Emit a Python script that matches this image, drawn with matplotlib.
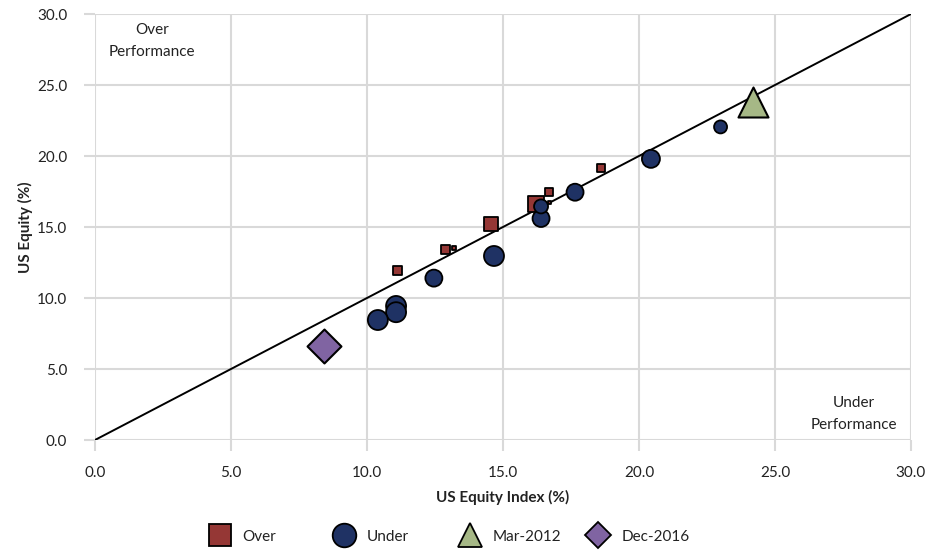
import matplotlib.pyplot as plt
from matplotlib.lines import Line2D

# Over-performing periods (squares)
over_x = [11.14, 12.90, 13.20, 14.56, 16.20, 16.70, 16.70, 18.60]
over_y = [11.97, 13.40, 13.55, 15.20, 16.60, 17.45, 16.70, 19.15]
over_w = [9, 9, 4, 14, 16, 8, 3, 8]

# Under-performing periods (circles)
under_x = [23.00, 20.44, 17.65, 16.40, 16.40, 14.67, 12.46, 11.07, 11.07, 10.40]
under_y = [22.05, 19.80, 17.45, 15.60, 16.45, 12.96, 11.40, 9.44, 9.00, 8.45]
under_w = [13, 18, 17, 17, 14, 20, 17, 20, 20, 20]

mar_2012 = (24.2, 23.8)
dec_2016 = (8.42, 6.6)

ticks = [0, 5, 10, 15, 20, 25, 30]
labels = ["Over", "Under", "Mar-2012", "Dec-2016"]

RED = "#953735"
NAVY = "#1F3264"
GREEN = "#A6B886"
PURPLE = "#8064A2"
GRID = "#D9D9D9"
TXT = "#222222"

plt.rcParams["font.family"] = ["Lato", "DejaVu Sans"]


def px_to_s(d):
    # marker diameter in pixels -> scatter size (pt^2) at dpi 100
    return (d * 0.72) ** 2


fig = plt.figure(figsize=(9.44, 5.5), dpi=100)
ax = fig.add_axes([0.1006, 0.2, 0.8644, 0.7745])

ax.plot([0, 30], [0, 30], color="black", lw=1.4, zorder=3)

ax.scatter(over_x, over_y, s=[px_to_s(d) for d in over_w], marker="s",
           facecolor=RED, edgecolor="black", linewidth=1.3, zorder=4)
ax.scatter(under_x, under_y, s=[px_to_s(d) for d in under_w], marker="o",
           facecolor=NAVY, edgecolor="black", linewidth=1.3, zorder=5)
ax.scatter([mar_2012[0]], [mar_2012[1]], s=px_to_s(30), marker="^",
           facecolor=GREEN, edgecolor="black", linewidth=1.5, zorder=6)
ax.scatter([dec_2016[0]], [dec_2016[1]], s=px_to_s(24), marker="D",
           facecolor=PURPLE, edgecolor="black", linewidth=1.5, zorder=6)

ax.set_xlim(0, 30)
ax.set_ylim(0, 30)
ax.set_xticks(ticks)
ax.set_yticks(ticks)
ax.set_xticklabels([f"{t:.1f}" for t in ticks])
ax.set_yticklabels([f"{t:.1f}" for t in ticks])
ax.grid(True, color=GRID, lw=1.5, zorder=0)
ax.set_axisbelow(True)
for sp in ax.spines.values():
    sp.set_visible(False)
ax.tick_params(axis="both", colors=GRID, length=8, width=1.5, labelsize=11,
               labelcolor=TXT)
ax.tick_params(axis="x", pad=11)
ax.tick_params(axis="y", pad=12)

ax.set_xlabel("US Equity Index (%)", fontsize=11, fontweight="bold",
              labelpad=7, color=TXT)
ax.set_ylabel("US Equity (%)", fontsize=11, fontweight="bold",
              labelpad=3, color=TXT)

ax.text(2.1, 28.1, "Over\nPerformance", ha="center", va="center",
        fontsize=11, color=TXT, linespacing=1.7)
ax.text(27.9, 1.83, "Under\nPerformance", ha="center", va="center",
        fontsize=11, color=TXT, linespacing=1.7)

handles = [
    Line2D([], [], ls="none", marker="s", ms=16, mfc=RED, mec="black", mew=1.3),
    Line2D([], [], ls="none", marker="o", ms=17, mfc=NAVY, mec="black", mew=1.3),
    Line2D([], [], ls="none", marker="^", ms=17, mfc=GREEN, mec="black", mew=1.3),
    Line2D([], [], ls="none", marker="D", ms=13, mfc=PURPLE, mec="black", mew=1.3),
]
# evenly spaced legend entries, like the original
legend_x = [0.223, 0.355, 0.488, 0.624]
for h, lab, lx in zip(handles, labels, legend_x):
    fig.legend([h], [lab], loc="center left", bbox_to_anchor=(lx, 0.024),
               frameon=False, fontsize=11, handletextpad=0.9,
               handlelength=1.2, borderpad=0, borderaxespad=0,
               labelcolor=TXT)

fig.savefig("out.png", dpi=100)
